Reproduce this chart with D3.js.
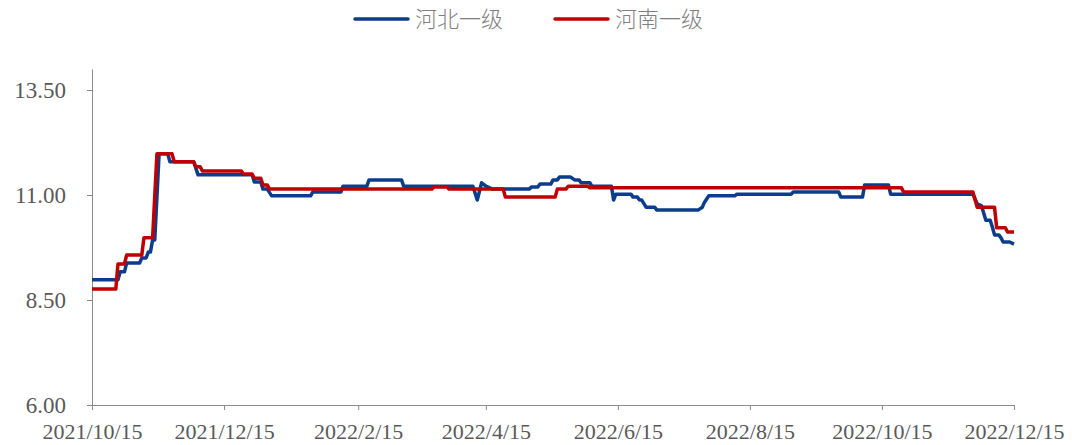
<!DOCTYPE html>
<html>
<head>
<meta charset="utf-8">
<script src="https://cdn.jsdelivr.net/npm/d3@7"></script>
<style>
  body { margin: 0; background: #fff; }
</style>
</head>
<body>
<div class="chart"></div>
<script>
// series names
const seriesNames = ['河北一级', '河南一级'];

// Hebei: corner points of the price line
const hebeiDates = ['2021-10-15','2021-10-27','2021-10-28','2021-10-30','2021-10-31','2021-11-06','2021-11-07','2021-11-09','2021-11-10','2021-11-11','2021-11-12','2021-11-13','2021-11-15','2021-11-19','2021-11-20','2021-12-01','2021-12-03','2021-12-28','2021-12-29','2022-01-01','2022-01-02','2022-01-04','2022-01-06','2022-01-24','2022-01-25','2022-02-07','2022-02-08','2022-02-19','2022-02-20','2022-03-07','2022-03-08','2022-04-09','2022-04-11','2022-04-13','2022-04-15','2022-04-18','2022-05-05','2022-05-06','2022-05-09','2022-05-10','2022-05-15','2022-05-16','2022-05-18','2022-05-19','2022-05-24','2022-05-26','2022-05-28','2022-05-29','2022-06-02','2022-06-03','2022-06-12','2022-06-13','2022-06-14','2022-06-21','2022-06-22','2022-06-24','2022-06-25','2022-06-26','2022-06-28','2022-07-02','2022-07-03','2022-07-22','2022-07-24','2022-07-25','2022-07-27','2022-08-08','2022-08-09','2022-09-03','2022-09-04','2022-09-25','2022-09-26','2022-10-06','2022-10-07','2022-10-18','2022-10-19','2022-11-26','2022-11-28','2022-11-30','2022-12-02','2022-12-04','2022-12-05','2022-12-06','2022-12-08','2022-12-09','2022-12-10','2022-12-13','2022-12-15'];
const hebeiValues = [8.98,8.98,9.17,9.17,9.38,9.38,9.50,9.50,9.64,9.64,9.93,9.93,11.98,11.98,11.79,11.79,11.48,11.48,11.31,11.31,11.14,11.14,10.98,10.98,11.07,11.07,11.21,11.21,11.36,11.36,11.21,11.21,10.88,11.29,11.21,11.14,11.14,11.19,11.19,11.26,11.26,11.36,11.36,11.43,11.43,11.36,11.36,11.29,11.29,11.21,11.21,10.88,11.02,11.02,10.95,10.95,10.88,10.88,10.71,10.71,10.64,10.64,10.71,10.83,10.98,10.98,11.02,11.02,11.07,11.07,10.95,10.95,11.24,11.24,11.02,11.02,10.79,10.74,10.40,10.40,10.24,10.05,10.05,9.98,9.88,9.88,9.83];

// Henan: corner points of the price line
const henanDates = ['2021-10-15','2021-10-26','2021-10-27','2021-10-30','2021-10-31','2021-11-07','2021-11-08','2021-11-12','2021-11-14','2021-11-21','2021-11-22','2021-12-01','2021-12-02','2021-12-04','2021-12-05','2021-12-23','2021-12-24','2021-12-28','2021-12-29','2022-01-01','2022-01-02','2022-01-04','2022-01-05','2022-03-21','2022-03-22','2022-03-28','2022-03-29','2022-04-23','2022-04-24','2022-05-17','2022-05-18','2022-05-22','2022-05-23','2022-06-01','2022-06-02','2022-10-24','2022-10-25','2022-11-26','2022-11-28','2022-12-06','2022-12-07','2022-12-11','2022-12-12','2022-12-15'];
const henanValues = [8.76,8.76,9.36,9.36,9.57,9.57,9.98,9.98,11.98,11.98,11.79,11.79,11.67,11.67,11.57,11.57,11.50,11.50,11.40,11.40,11.24,11.24,11.14,11.14,11.19,11.19,11.14,11.14,10.95,10.95,11.14,11.14,11.21,11.21,11.17,11.17,11.07,11.07,10.71,10.71,10.22,10.22,10.12,10.12];

const colors = ['#0b3d8c', '#c00000'];

// tick labels
const xTickDates = ['2021-10-15','2021-12-15','2022-02-15','2022-04-15','2022-06-15','2022-08-15','2022-10-15','2022-12-15'];
const yTicks = [6, 8.5, 11, 13.5];

const parse = d3.timeParse('%Y-%m-%d');
const fmt = d3.timeFormat('%Y/%-m/%-d');

const series = [
  hebeiDates.map((d, i) => ({date: parse(d), value: hebeiValues[i]})),
  henanDates.map((d, i) => ({date: parse(d), value: henanValues[i]}))
];

const width = 1072;
const height = 445;
const svg = d3.select('.chart')
  .append('svg')
  .attr('width', width)
  .attr('height', height);

const x = d3.scaleTime()
  .domain([parse('2021-10-15'), parse('2022-12-15')])
  .range([92, 1014]);
const y = d3.scaleLinear()
  .domain([6, 14])
  .range([405, 69]);

const serif = '"Liberation Serif", "Times New Roman", serif';

// y axis
const yAxis = svg.append('g')
  .attr('transform', 'translate(92,0)')
  .call(d3.axisLeft(y).tickValues(yTicks).tickFormat(d3.format('.2f')).tickSize(5).tickSizeOuter(0));
yAxis.selectAll('path, line').attr('stroke', '#8c8c8c');
yAxis.selectAll('text')
  .attr('x', -26)
  .attr('font-family', serif)
  .attr('font-size', 23)
  .attr('fill', '#595959');

// x axis
const xAxis = svg.append('g')
  .attr('transform', 'translate(0,405)')
  .call(d3.axisBottom(x).tickValues(xTickDates.map(parse)).tickFormat(fmt).tickSize(5).tickSizeOuter(0));
xAxis.selectAll('path, line').attr('stroke', '#8c8c8c');
xAxis.selectAll('text')
  .attr('y', 34)
  .attr('dy', 0)
  .attr('font-family', serif)
  .attr('font-size', 22)
  .attr('fill', '#595959');

// lines
const line = d3.line()
  .x(d => x(d.date))
  .y(d => y(d.value));

svg.selectAll('.series')
  .data(series)
  .enter()
  .append('path')
  .attr('class', 'series')
  .attr('d', line)
  .attr('fill', 'none')
  .attr('stroke', (d, i) => colors[i])
  .attr('stroke-width', 3.5)
  .attr('stroke-linejoin', 'round');

// legend
const legend = svg.append('g');
const legendX = [355, 555];
seriesNames.forEach((name, i) => {
  legend.append('line')
    .attr('x1', legendX[i]).attr('x2', legendX[i] + 53)
    .attr('y1', 19).attr('y2', 19)
    .attr('stroke', colors[i])
    .attr('stroke-width', 3.5)
    .attr('stroke-linecap', 'round');
  legend.append('text')
    .attr('x', legendX[i] + 60)
    .attr('y', 27)
    .attr('font-family', '"Noto Sans CJK SC", sans-serif')
    .attr('font-weight', 300)
    .attr('font-size', 22)
    .attr('fill', '#7f7f7f')
    .text(name);
});
</script>
</body>
</html>
